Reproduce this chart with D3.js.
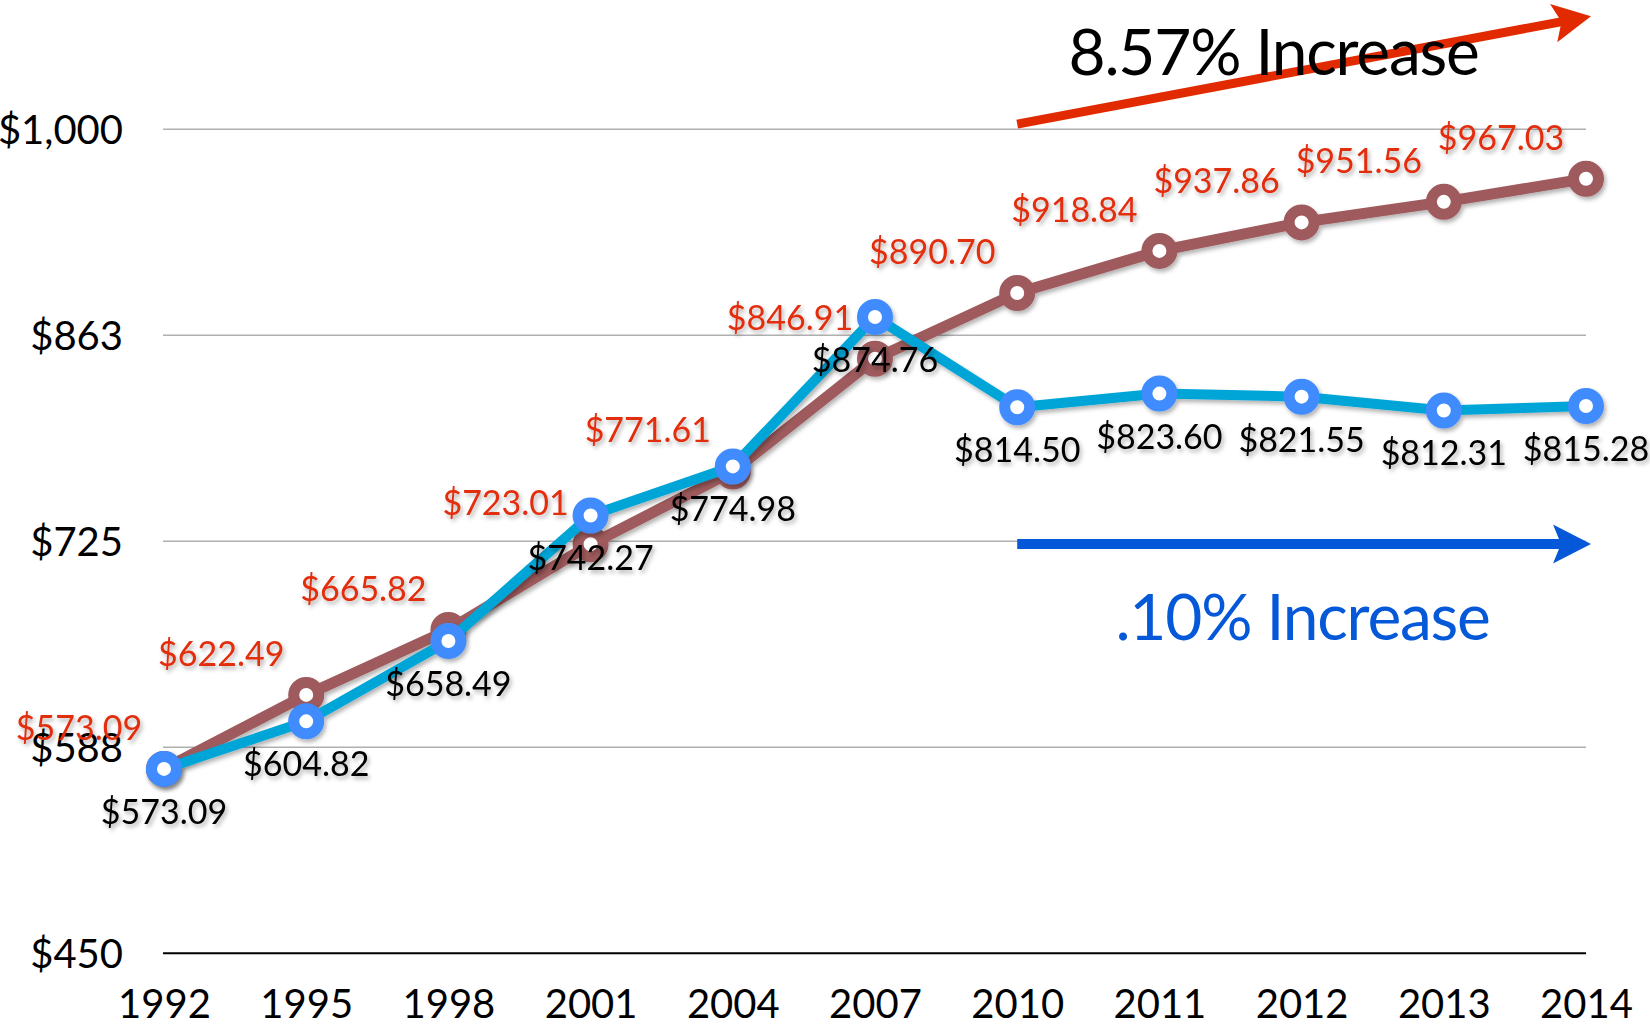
<!DOCTYPE html>
<html>
<head>
<meta charset="utf-8">
<script src="https://cdn.jsdelivr.net/npm/d3@7"></script>
<style>
  body { margin: 0; background: #fff; }
  svg { display: block; font-family: Lato, "Noto Sans", sans-serif; }
</style>
</head>
<body>
<svg id="chart" width="1650" height="1024"></svg>
<script>
// Years on the x axis
const years = ["1992", "1995", "1998", "2001", "2004", "2007", "2010", "2011", "2012", "2013", "2014"];

// Upper series (brown line, red labels)
const upperValues = [573.09, 622.49, 665.82, 723.01, 771.61, 846.91, 890.70, 918.84, 937.86, 951.56, 967.03];

// Lower series (blue line, black labels)
const lowerValues = [573.09, 604.82, 658.49, 742.27, 774.98, 874.76, 814.50, 823.60, 821.55, 812.31, 815.28];

// Y axis ticks and their labels
const yTicks = [450, 587.5, 725, 862.5, 1000];
const yTickLabels = ["$450", "$588", "$725", "$863", "$1,000"];

// Trend annotations (in data units)
const arrowNotes = [
  {from: ["2010", 1003.5], to: ["2014", 1075.5], color: "#e12a00", width: 9},
  {from: ["2010", 723.2], to: ["2014", 723.2], color: "#0559d9", width: 10}
];
const textNotes = [
  {text: "8.57% Increase", year: "2012", shift: -28, value: 1036, color: "#000"},
  {text: ".10% Increase", year: "2012", shift: 1, value: 659.4, color: "#0559d9"}
];

const svg = d3.select("#chart");
const fmt = d3.format("$,.2f");

const x = d3.scalePoint().domain(years).range([164, 1586]);
const y = d3.scaleLinear().domain([450, 1000]).range([953.3, 129.3]);

// Soft shadow like the original
const defs = svg.append("defs");
const shadow = defs.append("filter").attr("id", "shadow")
  .attr("x", "-10%").attr("y", "-10%").attr("width", "130%").attr("height", "130%");
shadow.append("feDropShadow")
  .attr("dx", 2).attr("dy", 3).attr("stdDeviation", 2)
  .attr("flood-color", "#000").attr("flood-opacity", 0.3);

// Grid lines
svg.append("g").selectAll("line")
  .data(yTicks.filter(d => d !== 450))
  .enter().append("line")
  .attr("x1", x.range()[0] - 1).attr("x2", x.range()[1])
  .attr("y1", d => y(d)).attr("y2", d => y(d))
  .attr("stroke", "#b0b0b0").attr("stroke-width", 1.6);

// Y axis labels
const yAxis = svg.append("g")
  .attr("transform", `translate(${x.range()[0] - 1},0)`)
  .call(d3.axisLeft(y).tickValues(yTicks).tickSize(0).tickPadding(40)
    .tickFormat((d, i) => yTickLabels[i]));
yAxis.select(".domain").remove();
yAxis.selectAll("text")
  .attr("font-family", "Lato, 'Noto Sans', sans-serif")
  .attr("font-size", 40).attr("fill", "#000").attr("dy", "0.35em");

// X axis
const xAxis = svg.append("g")
  .attr("transform", `translate(0,${y(450)})`)
  .call(d3.axisBottom(x).tickSize(0).tickSizeOuter(0).tickPadding(36));
xAxis.select(".domain").attr("stroke", "#000").attr("stroke-width", 2)
  .attr("d", `M${x.range()[0] - 1},0H${x.range()[1]}`);
xAxis.selectAll("text")
  .attr("font-family", "Lato, 'Noto Sans', sans-serif")
  .attr("font-size", 40).attr("fill", "#000");

const line = d3.line()
  .x(d => x(d.year))
  .y(d => y(d.value));

function drawSeries(values, lineColor, dotColor, lineWidth) {
  const data = years.map((yr, i) => ({year: yr, value: values[i]}));
  const g = svg.append("g").attr("filter", "url(#shadow)");
  g.append("path")
    .datum(data)
    .attr("fill", "none")
    .attr("stroke", lineColor)
    .attr("stroke-width", lineWidth)
    .attr("stroke-linejoin", "round")
    .attr("d", line);
  g.selectAll("circle")
    .data(data)
    .enter().append("circle")
    .attr("cx", d => x(d.year))
    .attr("cy", d => y(d.value))
    .attr("r", 12.5)
    .attr("fill", "#fff")
    .attr("stroke", dotColor)
    .attr("stroke-width", 11);
  return data;
}

const upperData = drawSeries(upperValues, "#9e5a5c", "#9e5a5c", 11);
const lowerData = drawSeries(lowerValues, "#00a5d8", "#3f8cff", 10);

// Red labels, above-left of the brown points
svg.append("g").attr("filter", "url(#shadow)").selectAll("text")
  .data(upperData)
  .enter().append("text")
  .attr("x", d => x(d.year) - 85)
  .attr("y", d => y(d.value) - 29)
  .attr("text-anchor", "middle")
  .attr("font-size", 34)
  .attr("fill", "#e22d0d")
  .text(d => fmt(d.value));

// Black labels, below the blue points
svg.append("g").attr("filter", "url(#shadow)").selectAll("text")
  .data(lowerData)
  .enter().append("text")
  .attr("x", d => x(d.year))
  .attr("y", d => y(d.value) + 55)
  .attr("text-anchor", "middle")
  .attr("font-size", 34)
  .attr("fill", "#000")
  .text(d => fmt(d.value));

// Arrows
arrowNotes.forEach(a => {
  const x0 = x(a.from[0]), y0 = y(a.from[1]);
  const x1 = x(a.to[0]) + 5, y1 = y(a.to[1]);
  const len = Math.hypot(x1 - x0, y1 - y0);
  const ux = (x1 - x0) / len, uy = (y1 - y0) / len;
  const nx = -uy, ny = ux;
  const headLen = 38, hw = 19.5, notch = 8;
  const bx = x1 - ux * headLen, by = y1 - uy * headLen;
  const mx = x1 - ux * (headLen - notch), my = y1 - uy * (headLen - notch);
  svg.append("line")
    .attr("x1", x0).attr("y1", y0)
    .attr("x2", mx + ux * 2).attr("y2", my + uy * 2)
    .attr("stroke", a.color).attr("stroke-width", a.width);
  svg.append("path")
    .attr("d", `M${x1},${y1}L${bx + nx * hw},${by + ny * hw}L${mx},${my}L${bx - nx * hw},${by - ny * hw}Z`)
    .attr("fill", a.color);
});

// Annotation texts
svg.append("g").selectAll("text")
  .data(textNotes)
  .enter().append("text")
  .attr("x", d => x(d.year) + d.shift)
  .attr("y", d => y(d.value))
  .attr("text-anchor", "middle")
  .attr("font-size", 64)
  .attr("letter-spacing", "-1.2px")
  .attr("fill", d => d.color)
  .text(d => d.text);
</script>
</body>
</html>
